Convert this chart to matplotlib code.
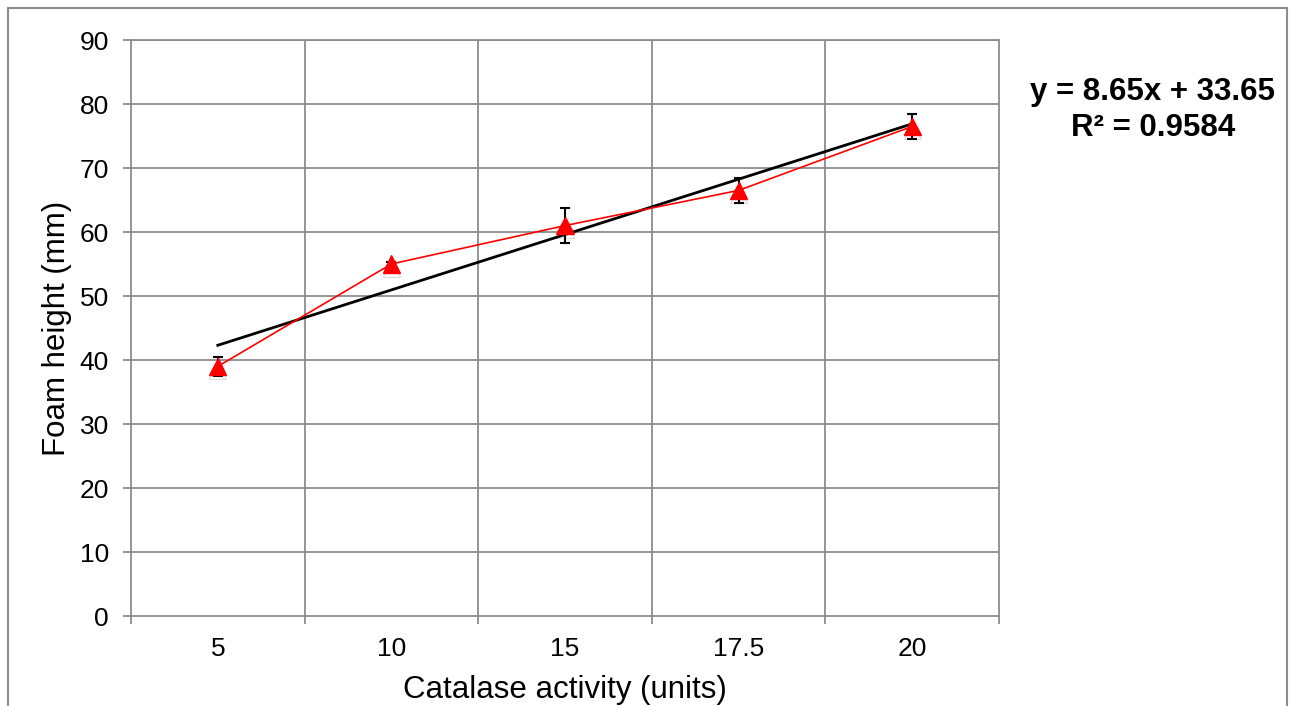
import matplotlib
matplotlib.use("Agg")
import matplotlib.pyplot as plt
import matplotlib.patheffects as pe
from matplotlib.patches import Rectangle
import numpy as np

plt.rcParams['font.family'] = ['Liberation Sans', 'DejaVu Sans']

categories = ["5", "10", "15", "17.5", "20"]
foam_height = [39, 55, 61, 66.5, 76.5]
foam_err = [1.5, 0.3, 2.7, 2.0, 2.0]
slope = 8.65
intercept = 33.65
r_squared = 0.9584

fig = plt.figure(figsize=(12.91, 7.06), dpi=100)
ax = fig.add_axes([131/1291, 90/706, (999-131)/1291, (616-40)/706])

x = np.arange(1, len(categories) + 1)

# trendline
ax.plot(x, slope * x + intercept, color='black', lw=2, zorder=3)

# data series with error bars
ax.errorbar(x, foam_height, yerr=foam_err, fmt='none', ecolor='black',
            elinewidth=1.5, capsize=3.6, capthick=1.5, zorder=4)
ax.plot(x, foam_height, color='red', lw=1.2, zorder=5)
ax.plot(x, foam_height, linestyle='none', marker='^', markersize=12.5,
        markerfacecolor='red', markeredgecolor='red', zorder=6,
        path_effects=[pe.SimpleLineShadow(offset=(0, -3), alpha=0.12, shadow_color='black'), pe.Normal()])

ax.set_xlim(0.5, len(categories) + 0.5)
ax.set_ylim(0, 90)
ax.set_yticks(np.arange(0, 91, 10))
ax.set_xticks(x)
ax.set_xticklabels(categories)
ax.set_xticks(np.arange(0.5, len(categories) + 1, 1), minor=True)

grid_c = '#8c8c8c'
ax.grid(False)
for yv in np.arange(10, 91, 10):
    ax.axhline(yv, color=grid_c, lw=1.3, zorder=1)
for xv in np.arange(1.5, len(categories), 1):
    ax.axvline(xv, color=grid_c, lw=1.3, zorder=1)

for s in ax.spines.values():
    s.set_color(grid_c)
    s.set_linewidth(1.3)

ax.tick_params(axis='y', which='major', length=6, width=1.3, color=grid_c,
               labelsize=19, pad=10)
ax.tick_params(axis='x', which='major', length=0, labelsize=19, pad=15)
ax.tick_params(axis='x', which='minor', length=6, width=1.3, color=grid_c)

ax.set_ylabel("Foam height (mm)", fontsize=22.5, labelpad=5)
ax.set_xlabel("Catalase activity (units)", fontsize=22.5, labelpad=10)

fig.text(1153/1291, 1 - 92/706, "y = 8.65x + 33.65", ha='center', va='center',
         fontsize=22.5, fontweight='bold')
fig.text(1153/1291, 1 - 128/706, "R² = 0.9584", ha='center', va='center',
         fontsize=22.5, fontweight='bold')

border = Rectangle((8/1291, -0.05), (1287-8)/1291, 1 - 8/706 + 0.05,
                   transform=fig.transFigure, fill=False, edgecolor='#8c8c8c',
                   lw=1.5, clip_on=False)
fig.patches.append(border)

fig.savefig("out.png", dpi=100)
